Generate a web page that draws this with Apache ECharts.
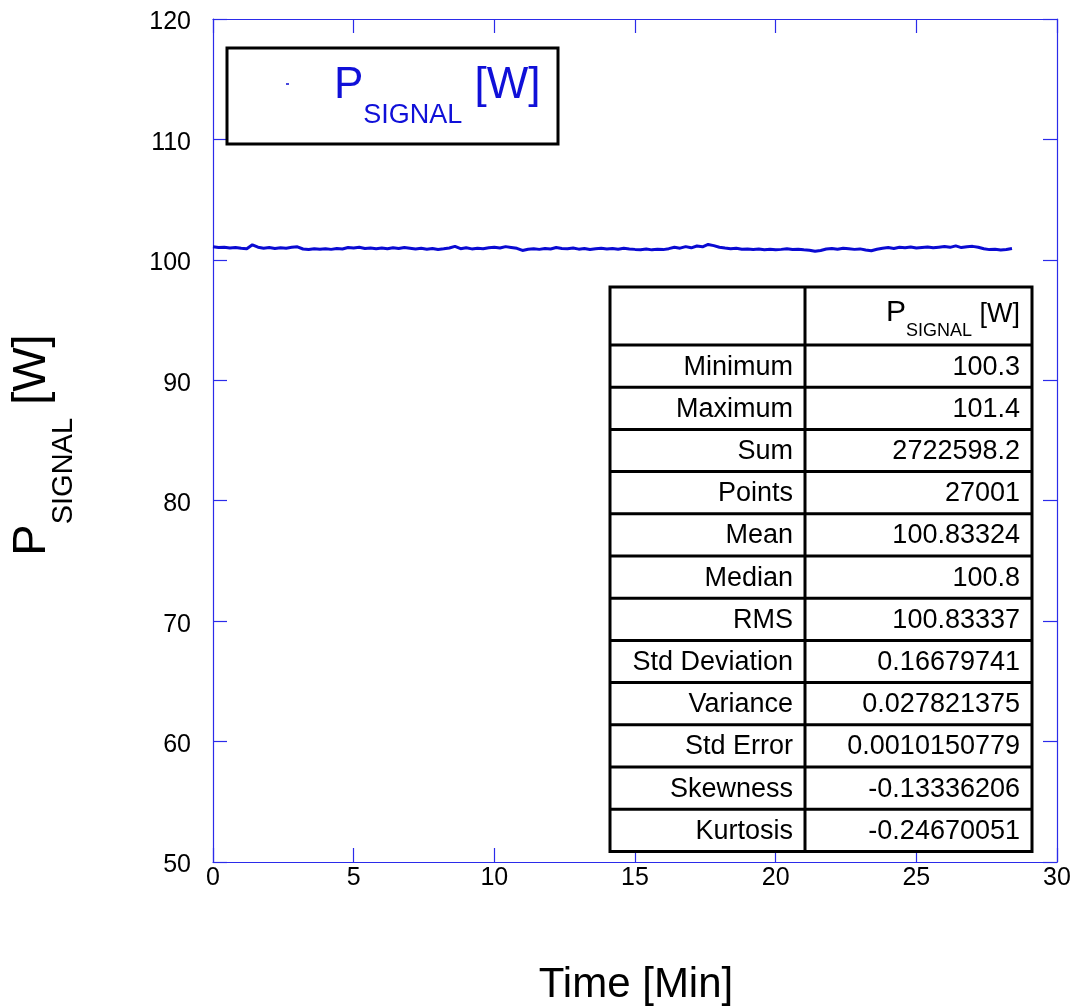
<!DOCTYPE html>
<html>
<head>
<meta charset="utf-8">
<title>P_SIGNAL vs Time</title>
<script src="https://cdn.jsdelivr.net/npm/echarts@6/dist/echarts.min.js"></script>
<style>
  html, body { margin: 0; padding: 0; background: #ffffff; }
  #chart { width: 1074px; height: 1006px; }
</style>
</head>
<body>
<div id="chart"></div>
<script>
// Signal power samples, one every 0.2 min starting at t = 0
const sampleStepMin = 0.2;
const signalPower = [
  101.08, 101.02, 101.05, 100.98, 101.03,
  100.96, 100.92, 101.25, 101.05, 100.97,
  101.02, 100.95, 101.00, 100.97, 101.04,
  101.08, 100.90, 100.86, 100.92, 100.88,
  100.93, 100.87, 100.95, 100.90, 101.02,
  100.98, 101.04, 100.95, 100.99, 100.93,
  100.98, 100.92, 101.00, 100.95, 101.03,
  100.97, 100.91, 100.96, 100.88, 100.94,
  100.86, 100.92, 100.99, 101.12, 100.93,
  101.00, 100.91, 100.97, 100.93, 101.01,
  101.05, 100.98, 101.10, 101.03, 100.96,
  100.78, 100.88, 100.92, 100.87, 100.95,
  100.90, 101.02, 100.95, 100.93, 100.98,
  100.89, 100.94, 100.86, 100.92, 100.96,
  100.90, 100.95, 100.88, 100.96, 100.91,
  100.87, 100.84, 100.90, 100.83, 100.88,
  100.85, 100.93, 101.05, 100.97, 101.10,
  101.00, 101.15, 101.08, 101.28, 101.18,
  101.05, 100.98, 100.92, 100.96, 100.88,
  100.91, 100.86, 100.90, 100.84, 100.88,
  100.83, 100.87, 100.92, 100.86, 100.89,
  100.84, 100.80, 100.72, 100.78, 100.90,
  100.95, 100.88, 100.96, 100.92, 100.87,
  100.91, 100.82, 100.76, 100.88, 100.97,
  101.02, 100.95, 101.04, 101.00, 101.06,
  100.98, 101.03, 101.07, 101.00, 101.05,
  101.10, 101.04, 101.16, 101.02, 101.09,
  101.12, 101.05, 100.92, 100.85, 100.88,
  100.82, 100.86, 100.95
];

// Axis ranges and ticks
const xRange = { min: 0, max: 30, interval: 5 };
const yRange = { min: 50, max: 120, interval: 10 };

// Statistics table rows
const statNames = ['Minimum', 'Maximum', 'Sum', 'Points', 'Mean', 'Median', 'RMS',
  'Std Deviation', 'Variance', 'Std Error', 'Skewness', 'Kurtosis'];
const statValues = ['100.3', '101.4', '2722598.2', '27001', '100.83324', '100.8', '100.83337',
  '0.16679741', '0.027821375', '0.0010150779', '-0.13336206', '-0.24670051'];

const FONT = '"Liberation Sans", Arial, Helvetica, sans-serif';
const AXIS_BLUE = '#2b2bea';
const LINE_BLUE = '#0a0ad2';
const TEXT_BLUE = '#1010d8';

const measureCtx = document.createElement('canvas').getContext('2d');
function textWidth(str, size) {
  measureCtx.font = size + 'px ' + FONT;
  return measureCtx.measureText(str).width;
}

// Text pieces laid out along a shared baseline; sub pieces are dropped by dy
function richRun(parts, startX, baseline, color) {
  const out = [];
  let x = startX;
  parts.forEach(p => {
    out.push({
      type: 'text',
      x: x,
      y: baseline + (p.dy || 0),
      style: {
        text: p.t, fill: color, font: p.size + 'px ' + FONT,
        textAlign: 'left', textVerticalAlign: 'bottom', verticalAlign: 'bottom'
      },
      silent: true
    });
    x += textWidth(p.t, p.size);
  });
  return out;
}
function runWidth(parts) {
  return parts.reduce((s, p) => s + textWidth(p.t, p.size), 0);
}

const data = signalPower.map((v, i) => [+(i * sampleStepMin).toFixed(2), v]);

const chart = echarts.init(document.getElementById('chart'), null, { renderer: 'canvas' });

// Table geometry
const tbl = { left: 610, mid: 805, right: 1032, top: 287, headH: 58, rowH: 42.2, pad: 12, font: 27 };
const tableEls = [];
const tblBottom = tbl.top + tbl.headH + tbl.rowH * statNames.length;
tableEls.push({
  type: 'rect',
  shape: { x: tbl.left, y: tbl.top, width: tbl.right - tbl.left, height: tblBottom - tbl.top },
  style: { fill: '#ffffff', stroke: '#000000', lineWidth: 3 }
});
tableEls.push({
  type: 'line',
  shape: { x1: tbl.mid, y1: tbl.top, x2: tbl.mid, y2: tblBottom },
  style: { stroke: '#000000', lineWidth: 3 }
});
for (let i = 0; i < statNames.length; i++) {
  const y = tbl.top + tbl.headH + tbl.rowH * i;
  tableEls.push({
    type: 'line',
    shape: { x1: tbl.left, y1: y, x2: tbl.right, y2: y },
    style: { stroke: '#000000', lineWidth: 3 }
  });
  const cy = y + tbl.rowH / 2 + 1;
  tableEls.push({
    type: 'text', x: tbl.mid - tbl.pad, y: cy,
    style: { text: statNames[i], fill: '#000', font: tbl.font + 'px ' + FONT, textAlign: 'right', textVerticalAlign: 'middle', verticalAlign: 'middle' }
  });
  tableEls.push({
    type: 'text', x: tbl.right - tbl.pad, y: cy,
    style: { text: statValues[i], fill: '#000', font: tbl.font + 'px ' + FONT, textAlign: 'right', textVerticalAlign: 'middle', verticalAlign: 'middle' }
  });
}
// Table header: P_SIGNAL [W]
const headParts = [{ t: 'P', size: 30 }, { t: 'SIGNAL', size: 18, dy: 12 }, { t: ' [W]', size: 27 }];
richRun(headParts, tbl.right - tbl.pad - runWidth(headParts), tbl.top + 41, '#000').forEach(e => tableEls.push(e));

// Legend box
const legendParts = [{ t: 'P', size: 44 }, { t: 'SIGNAL', size: 27, dy: 21 }, { t: ' [W]', size: 44 }];
const legendEls = [
  { type: 'rect', shape: { x: 227, y: 48, width: 331, height: 96 }, style: { fill: '#ffffff', stroke: '#000000', lineWidth: 3 } },
  { type: 'line', shape: { x1: 286, y1: 84, x2: 289, y2: 84 }, style: { stroke: LINE_BLUE, lineWidth: 1.5 } }
].concat(richRun(legendParts, 334, 108, TEXT_BLUE));

// Axis titles
const xTitle = {
  type: 'text', x: 636, y: 985,
  style: { text: 'Time [Min]', fill: '#000', font: '42px ' + FONT, textAlign: 'center', textVerticalAlign: 'middle', verticalAlign: 'middle' }
};
const yTitleParts = [{ t: 'P', size: 47 }, { t: 'SIGNAL', size: 29, dy: 22 }, { t: ' [W]', size: 47 }];
const yTitle = {
  type: 'group', x: 56, y: 445, rotation: Math.PI / 2,
  children: richRun(yTitleParts, -runWidth(yTitleParts) / 2, 0, '#000')
};

function frameAxis(extra) {
  return Object.assign({
    type: 'value',
    axisLine: { show: true, onZero: false, lineStyle: { color: AXIS_BLUE, width: 1.2 } },
    axisTick: { show: true, inside: true, length: 14, lineStyle: { color: AXIS_BLUE, width: 1.2 } },
    splitLine: { show: false },
    minorTick: { show: false }
  }, extra);
}
const tickLabel = { show: true, color: '#000', fontSize: 25, fontFamily: FONT };

chart.setOption({
  animation: false,
  backgroundColor: '#ffffff',
  grid: { left: 213, right: 17, top: 19, bottom: 144, containLabel: false },
  xAxis: [
    frameAxis(Object.assign({ position: 'bottom', axisLabel: Object.assign({ margin: 4 }, tickLabel) }, xRange)),
    frameAxis(Object.assign({ position: 'top', axisLabel: { show: false } }, xRange))
  ],
  yAxis: [
    frameAxis(Object.assign({ position: 'left', axisLabel: Object.assign({
      margin: 22,
      formatter: '{v|{value}}',
      rich: { v: { fontSize: 25, fontFamily: FONT, color: '#000', padding: [7, 0, 0, 0] } }
    }, tickLabel) }, yRange)),
    frameAxis(Object.assign({ position: 'right', axisLabel: { show: false } }, yRange))
  ],
  series: [{
    name: 'P_SIGNAL [W]',
    type: 'line',
    data: data,
    showSymbol: false,
    symbol: 'none',
    lineStyle: { color: LINE_BLUE, width: 3 },
    z: 3
  }],
  graphic: [xTitle, yTitle]
    .concat(legendEls.map(e => Object.assign({ z: 10 }, e)))
    .concat(tableEls.map(e => Object.assign({ z: 10 }, e)))
});
</script>
</body>
</html>
